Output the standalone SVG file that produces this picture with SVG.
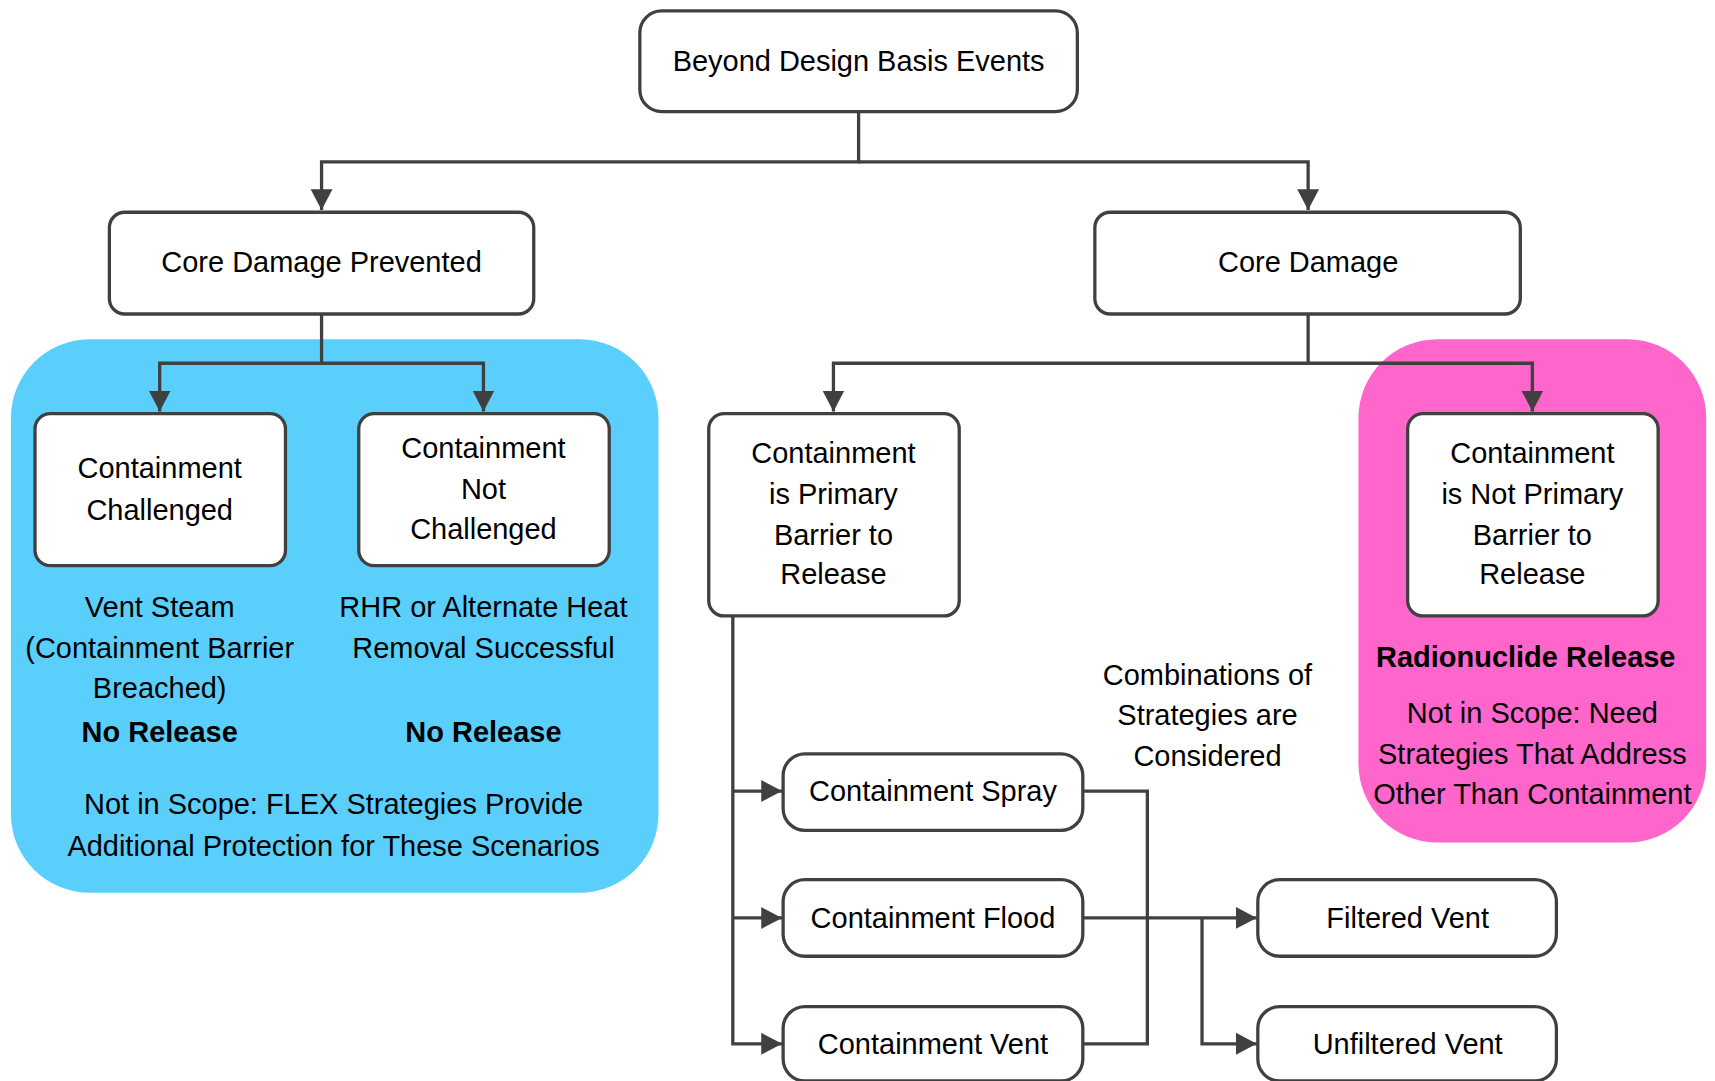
<svg xmlns="http://www.w3.org/2000/svg" width="1715" height="1081" viewBox="0 0 1715 1081">
<defs>
<style>
.node{fill:#ffffff;stroke:#404040;stroke-width:3}
.t{font-family:"Liberation Sans",Arial,sans-serif;font-size:26.5px;fill:#000;text-anchor:middle}
.b{font-weight:bold}
.c{fill:none;stroke:#404040;stroke-width:3}
</style>
<marker id="ah" markerUnits="userSpaceOnUse" markerWidth="22" markerHeight="22" viewBox="0 0 22 22" refX="19" refY="11" orient="auto">
<path d="M0,1 L19,11 L0,21 Z" fill="#404040"/>
</marker>
</defs>
<rect width="1715" height="1081" fill="#ffffff"/>
<g transform="scale(1.09375 1.0941)">
<g id="regions">
<rect x="10" y="310" width="592" height="506" rx="72" fill="#5BCFFB"/>
<rect x="1242" y="310" width="318" height="460" rx="72" fill="#FF66CC"/>
</g>
<g id="connectors">
<path class="c" d="M785,102 V148 H294 V192" marker-end="url(#ah)"/>
<path class="c" d="M785,148 H1196 V192" marker-end="url(#ah)"/>
<path class="c" d="M294,287 V332 H146 V376" marker-end="url(#ah)"/>
<path class="c" d="M294,332 H442 V376" marker-end="url(#ah)"/>
<path class="c" d="M1196,287 V332 H762 V376" marker-end="url(#ah)"/>
<path class="c" d="M1196,332 H1401 V376" marker-end="url(#ah)"/>
<path class="c" d="M670,563 V954 H715" marker-end="url(#ah)"/>
<path class="c" d="M670,723 H715" marker-end="url(#ah)"/>
<path class="c" d="M670,839 H715" marker-end="url(#ah)"/>
<path class="c" d="M990,723 H1049 V954 H990"/>
<path class="c" d="M990,839 H1149" marker-end="url(#ah)"/>
<path class="c" d="M1099,839 V954 H1149" marker-end="url(#ah)"/>
</g>
<g id="n-bdbe">
<rect class="node" x="585" y="10" width="400" height="92" rx="20"/>
<text class="t" x="785" y="65">Beyond Design Basis Events</text>
</g>
<g id="n-cdp">
<rect class="node" x="100" y="194" width="388" height="93" rx="14"/>
<text class="t" x="294" y="249">Core Damage Prevented</text>
</g>
<g id="n-cd">
<rect class="node" x="1001" y="194" width="389" height="93" rx="14"/>
<text class="t" x="1196" y="249">Core Damage</text>
</g>
<g id="n-cc">
<rect class="node" x="32" y="378" width="229" height="139" rx="14"/>
<text class="t" x="146" y="437">Containment</text>
<text class="t" x="146" y="475">Challenged</text>
</g>
<g id="n-cnc">
<rect class="node" x="328" y="378" width="229" height="139" rx="14"/>
<text class="t" x="442" y="419">Containment</text>
<text class="t" x="442" y="456">Not</text>
<text class="t" x="442" y="493">Challenged</text>
</g>
<g id="n-cpb">
<rect class="node" x="648" y="378" width="229" height="185" rx="14"/>
<text class="t" x="762" y="423">Containment</text>
<text class="t" x="762" y="461">is Primary</text>
<text class="t" x="762" y="498">Barrier to</text>
<text class="t" x="762" y="534">Release</text>
</g>
<g id="n-cnpb">
<rect class="node" x="1287" y="378" width="229" height="185" rx="14"/>
<text class="t" x="1401" y="423">Containment</text>
<text class="t" x="1401" y="461">is Not Primary</text>
<text class="t" x="1401" y="498">Barrier to</text>
<text class="t" x="1401" y="534">Release</text>
</g>
<g id="n-spray">
<rect class="node" x="716" y="689" width="274" height="70" rx="20"/>
<text class="t" x="853" y="732">Containment Spray</text>
</g>
<g id="n-flood">
<rect class="node" x="716" y="804" width="274" height="70" rx="20"/>
<text class="t" x="853" y="848">Containment Flood</text>
</g>
<g id="n-vent">
<rect class="node" x="716" y="920" width="274" height="68" rx="20"/>
<text class="t" x="853" y="963">Containment Vent</text>
</g>
<g id="n-filtered">
<rect class="node" x="1150" y="804" width="273" height="70" rx="20"/>
<text class="t" x="1287" y="848">Filtered Vent</text>
</g>
<g id="n-unfiltered">
<rect class="node" x="1150" y="920" width="273" height="68" rx="20"/>
<text class="t" x="1287" y="963">Unfiltered Vent</text>
</g>
<g id="labels">
<text class="t" x="146" y="564">Vent Steam</text>
<text class="t" x="146" y="601">(Containment Barrier</text>
<text class="t" x="146" y="638">Breached)</text>
<text class="t b" x="146" y="678">No Release</text>
<text class="t" x="442" y="564">RHR or Alternate Heat</text>
<text class="t" x="442" y="601">Removal Successful</text>
<text class="t b" x="442" y="678">No Release</text>
<text class="t" x="305" y="744">Not in Scope: FLEX Strategies Provide</text>
<text class="t" x="305" y="782">Additional Protection for These Scenarios</text>
<text class="t" x="1104" y="626">Combinations of</text>
<text class="t" x="1104" y="663">Strategies are</text>
<text class="t" x="1104" y="700">Considered</text>
<text class="t b" x="1395" y="610">Radionuclide Release</text>
<text class="t" x="1401" y="661">Not in Scope: Need</text>
<text class="t" x="1401" y="698">Strategies That Address</text>
<text class="t" x="1401" y="735">Other Than Containment</text>
</g>
</g>
</svg>
